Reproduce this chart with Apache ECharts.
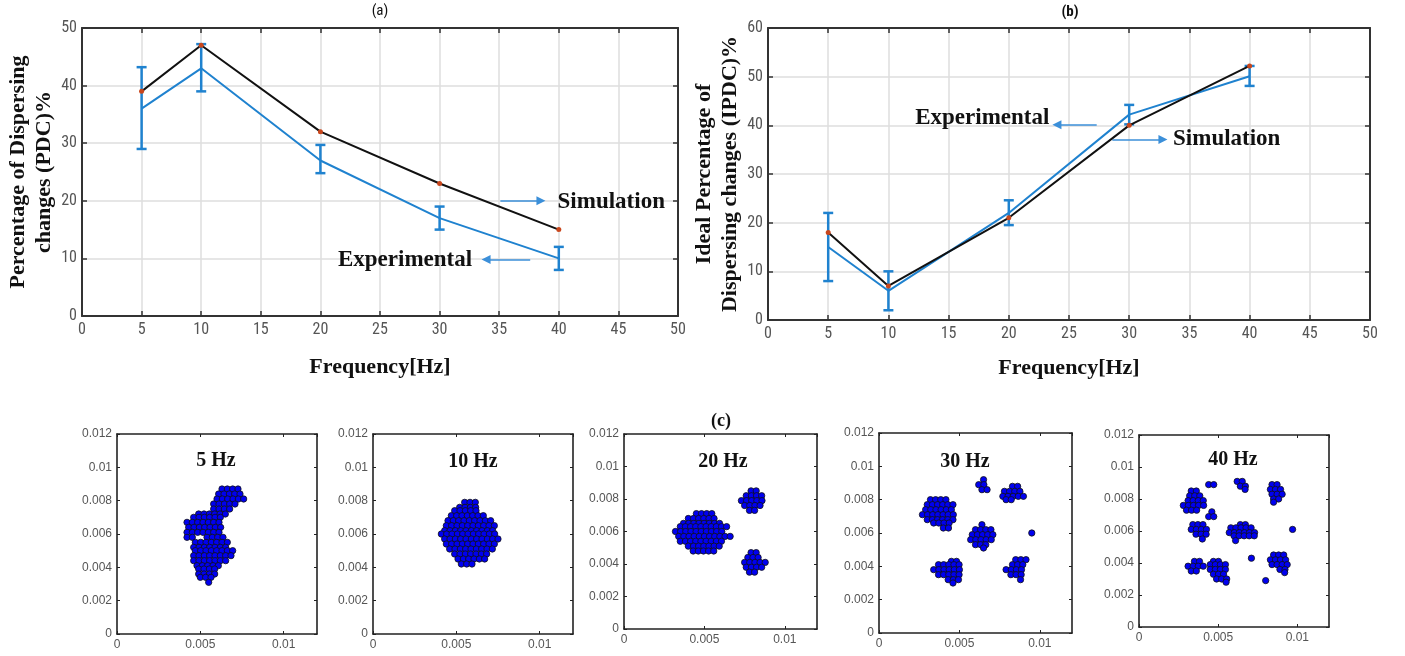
<!DOCTYPE html>
<html><head><meta charset="utf-8">
<script src="https://cdn.jsdelivr.net/npm/echarts@6/dist/echarts.min.js"></script>
<style>html,body{margin:0;padding:0;background:#fff}#c{width:1405px;height:656px}</style>
</head><body><div id="c"></div>
<script>
// ---------- data: line charts ----------
const freq = [5, 10, 20, 30, 40];
const simA = [39, 47, 32, 23, 15];
const expA = [36, 43, 27, 17, 10];
const expALow = [29, 39, 24.8, 15, 8];
const expAHigh = [43.2, 47.2, 29.7, 19, 12];
const simB = [18, 7, 21, 40, 52.2];
const expB = [15, 6, 22, 42.2, 50.1];
const expBLow = [8, 2, 19.5, 40.2, 48.1];
const expBHigh = [22, 10, 24.6, 44.2, 52.2];

// ---------- data: particle rows [y, first x, count] ----------
const particleDiameter = 0.00032;
const rows5Hz = [
  [0.0087,0.0063,4],[0.0084,0.0061,5],[0.0081,0.0060,6],[0.0078,0.0058,5],[0.0075,0.0058,4],
  [0.0072,0.0049,6],[0.0070,0.0046,6],[0.0067,0.0042,7],[0.0064,0.0043,7],[0.0061,0.0042,7],
  [0.0058,0.0042,2],[0.0058,0.0054,4],
  [0.0055,0.0047,7],[0.0052,0.0046,7],[0.0050,0.0047,8],[0.0047,0.0046,8],[0.0044,0.0046,7],
  [0.0041,0.0048,5],[0.0039,0.0049,4],[0.0036,0.0049,4],[0.0034,0.0050,3],[0.0031,0.0055,1]
];
const rows10Hz = [
  [0.0079,0.0055,3],[0.0076,0.0052,4],[0.0074,0.0049,5],[0.0071,0.0047,7],[0.0068,0.0045,9],
  [0.0065,0.0044,10],[0.0062,0.0043,10],[0.0060,0.0041,11],[0.0057,0.0043,11],[0.0054,0.0044,10],
  [0.0051,0.0046,9],[0.0048,0.0049,7],[0.0045,0.0051,6],[0.0042,0.0053,3]
];
const rows20Hz = [
  [0.0071,0.0045,4],[0.0068,0.0040,6],[0.0065,0.0037,8],[0.0063,0.0035,10],[0.0060,0.0032,10],
  [0.0057,0.0034,11],[0.0054,0.0035,9],[0.0051,0.0040,7],[0.0048,0.0043,5],
  [0.0085,0.0079,2],[0.0082,0.0076,4],[0.0079,0.0073,5],[0.0076,0.0075,4],[0.0073,0.0078,2],
  [0.0047,0.0079,2],[0.0044,0.0077,3],[0.0041,0.0075,5],[0.0038,0.0076,4],[0.0035,0.0078,2]
];
const rows30Hz = [
  [0.0080,0.0032,4],[0.0077,0.0030,6],[0.0074,0.0029,6],[0.0071,0.0027,7],[0.0068,0.0030,6],[0.0066,0.0034,4],[0.0063,0.0040,2],
  [0.0092,0.0065,1],[0.0089,0.0062,2],[0.0086,0.0064,2],
  [0.0088,0.0083,2],[0.0085,0.0078,4],[0.0082,0.0077,5],[0.0080,0.0079,2],
  [0.0065,0.0064,1],[0.0062,0.0060,4],[0.0059,0.0058,5],[0.0056,0.0057,5],[0.0053,0.0060,3],[0.0051,0.0065,1],
  [0.0060,0.0095,1],
  [0.0043,0.0045,2],[0.0041,0.0037,5],[0.0038,0.0034,6],[0.0035,0.0037,5],[0.0032,0.0043,3],[0.0030,0.0046,1],
  [0.0044,0.0085,3],[0.0041,0.0083,3],[0.0038,0.0079,4],[0.0035,0.0082,3],[0.0032,0.0088,1]
];
const rows40Hz = [
  [0.0085,0.0033,2],[0.0082,0.0032,3],[0.0079,0.0031,4],[0.0076,0.0028,5],[0.0073,0.0030,3],
  [0.0089,0.0044,2],
  [0.0091,0.0062,2],[0.0088,0.0064,2],[0.0086,0.0067,1],
  [0.0089,0.0084,2],[0.0086,0.0083,3],[0.0083,0.0084,3],[0.0080,0.0085,2],[0.0078,0.0085,1],
  [0.0072,0.0046,1],[0.0069,0.0044,2],
  [0.0064,0.0034,3],[0.0061,0.0033,4],[0.0058,0.0036,3],[0.0055,0.0040,1],
  [0.0064,0.0064,2],[0.0062,0.0058,5],[0.0059,0.0057,6],[0.0057,0.0060,5],[0.0054,0.0061,1],
  [0.0061,0.0097,1],[0.0043,0.0071,1],
  [0.0041,0.0035,2],[0.0038,0.0031,4],[0.0035,0.0033,2],
  [0.0041,0.0047,2],[0.0039,0.0045,4],[0.0036,0.0045,4],[0.0033,0.0047,3],[0.0030,0.0049,3],[0.0028,0.0055,1],
  [0.0045,0.0085,3],[0.0042,0.0083,4],[0.0039,0.0084,4],[0.0036,0.0089,2],[0.0034,0.0092,1],
  [0.0029,0.0080,1]
];
const panelLabels = ['5 Hz', '10 Hz', '20 Hz', '30 Hz', '40 Hz'];

function expand(rows) {
  const pts = [];
  rows.forEach(([y, x0, n]) => { for (let i = 0; i < n; i++) pts.push([+(x0 + i * particleDiameter).toFixed(6), y]); });
  return pts;
}

// ---------- layout ----------
const BLUE = '#1f82cf';
const SANS = "'Liberation Sans Narrow','Roboto Condensed','Liberation Sans',Arial,sans-serif";
const SERIF = "'Liberation Serif','Times New Roman',serif";
const lineGrids = [
  {left: 82, top: 28, width: 596, height: 288, yGap: 25, xGap: 40},
  {left: 768, top: 28, width: 602, height: 292, yGap: 24, xGap: 37}
];
const panelBoxes = [
  {left: 117, top: 434, width: 200, height: 200, lx: 216, ly: 461},
  {left: 373, top: 434, width: 200, height: 200, lx: 473, ly: 462},
  {left: 624, top: 434, width: 193, height: 195, lx: 723, ly: 462},
  {left: 879, top: 433, width: 193, height: 200, lx: 965, ly: 462},
  {left: 1139, top: 435, width: 190, height: 192, lx: 1233, ly: 460}
];

const grid = [], xAxis = [], yAxis = [], series = [];
const frameLine = {show: true, onZero: false, lineStyle: {color: '#333', width: 2}};

// line charts
const lineCfg = [
  {sim: simA, exp: expA, lo: expALow, hi: expAHigh, ymax: 50, yname: 'Percentage of Dispersing\nchanges (PDC)%',
   texts: [{name: 'Simulation', coord: [44.4, 19.8]}, {name: 'Experimental', coord: [27.1, 9.7]}],
   arrows: [[[35.1, 20], [38.5, 20]], [[37.6, 9.8], [33.9, 9.8]]]},
  {sim: simB, exp: expB, lo: expBLow, hi: expBHigh, ymax: 60, yname: 'Ideal Percentage of\nDispersing changes (IPDC)%',
   texts: [{name: 'Experimental', coord: [17.8, 41.5]}, {name: 'Simulation', coord: [38.1, 37.2]}],
   arrows: [[[27.3, 40.1], [24.0, 40.1]], [[28.6, 37.1], [32.8, 37.1]]]}
];
lineCfg.forEach((c, g) => {
  const L = lineGrids[g];
  grid.push({show: false, outerBoundsMode: 'none', containLabel: false, left: L.left, top: L.top, width: L.width, height: L.height});
  const labelStyle = {color: '#555', fontSize: 16, fontFamily: SANS};
  const tick = {inside: true, length: 5, lineStyle: {color: '#333', width: 1.5}};
  xAxis.push({gridIndex: g, type: 'value', min: 0, max: 50, interval: 5, position: 'bottom',
    axisLine: frameLine, axisTick: tick,
    axisLabel: Object.assign({margin: 6}, labelStyle),
    splitLine: {show: true, lineStyle: {color: '#dedede', width: 1.5}},
    name: 'Frequency[Hz]', nameLocation: 'middle', nameGap: L.xGap,
    nameTextStyle: {fontFamily: SERIF, fontWeight: 'bold', fontSize: 22, color: '#111'}});
  xAxis.push({gridIndex: g, type: 'value', min: 0, max: 50, interval: 5, position: 'top',
    axisLine: frameLine, axisTick: tick, axisLabel: {show: false}, splitLine: {show: false}});
  yAxis.push({gridIndex: g, type: 'value', min: 0, max: c.ymax, interval: 10, position: 'left',
    axisLine: frameLine, axisTick: tick,
    axisLabel: Object.assign({margin: 5}, labelStyle),
    splitLine: {show: true, lineStyle: {color: '#dedede', width: 1.5}},
    name: c.yname, nameLocation: 'middle', nameGap: L.yGap, nameRotate: 90,
    nameTextStyle: {fontFamily: SERIF, fontWeight: 'bold', fontSize: 22, color: '#111', lineHeight: 26}});
  yAxis.push({gridIndex: g, type: 'value', min: 0, max: c.ymax, interval: 10, position: 'right',
    axisLine: frameLine, axisTick: tick, axisLabel: {show: false}, splitLine: {show: false}});
  const xi = xAxis.length - 2, yi = yAxis.length - 2;
  series.push({type: 'line', xAxisIndex: xi, yAxisIndex: yi, z: 3,
    data: freq.map((f, i) => [f, c.exp[i]]), showSymbol: false,
    lineStyle: {color: BLUE, width: 2}, itemStyle: {color: BLUE},
    markLine: {silent: true, animation: false, symbol: ['none', 'triangle'], symbolSize: 9,
      label: {show: false}, lineStyle: {color: '#3b8fd9', width: 1.5, type: 'solid'},
      itemStyle: {color: '#3b8fd9'},
      data: c.arrows.map(a => [{coord: a[0]}, {coord: a[1]}])},
    markPoint: {silent: true, animation: false, symbol: 'circle', symbolSize: 1,
      itemStyle: {color: 'rgba(0,0,0,0)'},
      label: {show: true, position: 'inside', formatter: '{b}', color: '#111', fontFamily: SERIF, fontWeight: 'bold', fontSize: 23},
      data: c.texts}});
  series.push({type: 'custom', xAxisIndex: xi, yAxisIndex: yi, z: 4,
    data: freq.map((f, i) => [f, c.lo[i], c.hi[i]]),
    encode: {x: 0, y: [1, 2]},
    renderItem: (params, api) => {
      const x = api.value(0);
      const p1 = api.coord([x, api.value(2)]), p2 = api.coord([x, api.value(1)]);
      const w = 5, st = {stroke: BLUE, lineWidth: 2.5};
      return {type: 'group', children: [
        {type: 'line', shape: {x1: p1[0], y1: p1[1], x2: p2[0], y2: p2[1]}, style: st},
        {type: 'line', shape: {x1: p1[0] - w, y1: p1[1], x2: p1[0] + w, y2: p1[1]}, style: st},
        {type: 'line', shape: {x1: p2[0] - w, y1: p2[1], x2: p2[0] + w, y2: p2[1]}, style: st}
      ]};
    }});
  series.push({type: 'line', xAxisIndex: xi, yAxisIndex: yi, z: 5,
    data: freq.map((f, i) => [f, c.sim[i]]),
    symbol: 'circle', symbolSize: 5, showSymbol: true,
    lineStyle: {color: '#111', width: 2}, itemStyle: {color: '#c9461c', borderWidth: 0}});
});

// particle panels
const allRows = [rows5Hz, rows10Hz, rows20Hz, rows30Hz, rows40Hz];
const fmt = v => String(+v.toFixed(4));
panelBoxes.forEach((b, k) => {
  const gi = grid.length;
  grid.push({left: b.left, top: b.top, width: b.width, height: b.height, show: false, outerBoundsMode: 'none', containLabel: false});
  const tick = {inside: true, length: 3, lineStyle: {color: '#222', width: 1}};
  const line = {show: true, onZero: false, lineStyle: {color: '#222', width: 1.6}};
  const lab = {color: '#555', fontSize: 12, fontFamily: "'Liberation Sans',Arial,sans-serif", formatter: fmt};
  xAxis.push({gridIndex: gi, type: 'value', min: 0, max: 0.012, interval: 0.005, position: 'bottom',
    axisLine: line, axisTick: tick, splitLine: {show: false},
    axisLabel: Object.assign({margin: 5, showMaxLabel: false}, lab)});
  xAxis.push({gridIndex: gi, type: 'value', min: 0, max: 0.012, interval: 0.005, position: 'top',
    axisLine: line, axisTick: tick, splitLine: {show: false}, axisLabel: {show: false}});
  yAxis.push({gridIndex: gi, type: 'value', min: 0, max: 0.012, interval: 0.002, position: 'left',
    axisLine: line, axisTick: tick, splitLine: {show: false},
    axisLabel: Object.assign({margin: 5}, lab)});
  yAxis.push({gridIndex: gi, type: 'value', min: 0, max: 0.012, interval: 0.002, position: 'right',
    axisLine: line, axisTick: tick, splitLine: {show: false}, axisLabel: {show: false}});
  series.push({type: 'scatter', xAxisIndex: xAxis.length - 2, yAxisIndex: yAxis.length - 2,
    data: expand(allRows[k]), symbol: 'circle', symbolSize: 6.3,
    itemStyle: {color: '#0000f0', borderColor: '#111', borderWidth: 0.8, opacity: 1}});
});

const graphic = [
  {type: 'text', x: 380, y: 11, style: {text: '(a)', align: 'center', verticalAlign: 'middle', fontSize: 15, fontFamily: SANS, fill: '#111'}},
  {type: 'text', x: 1070, y: 12, style: {text: '(b)', align: 'center', verticalAlign: 'middle', fontSize: 15, fontWeight: 'bold', fontFamily: SANS, fill: '#111'}},
  {type: 'text', x: 721, y: 421, style: {text: '(c)', align: 'center', verticalAlign: 'middle', fontSize: 18, fontWeight: 'bold', fontFamily: SERIF, fill: '#111'}}
].concat(panelBoxes.map((b, k) => ({type: 'text', x: b.lx, y: b.ly,
  style: {text: panelLabels[k], align: 'center', verticalAlign: 'middle', fontSize: 20, fontWeight: 'bold', fontFamily: SERIF, fill: '#111'}})));

const chart = echarts.init(document.getElementById('c'));
chart.setOption({animation: false, backgroundColor: '#fff', grid, xAxis, yAxis, series, graphic});
</script></body></html>
